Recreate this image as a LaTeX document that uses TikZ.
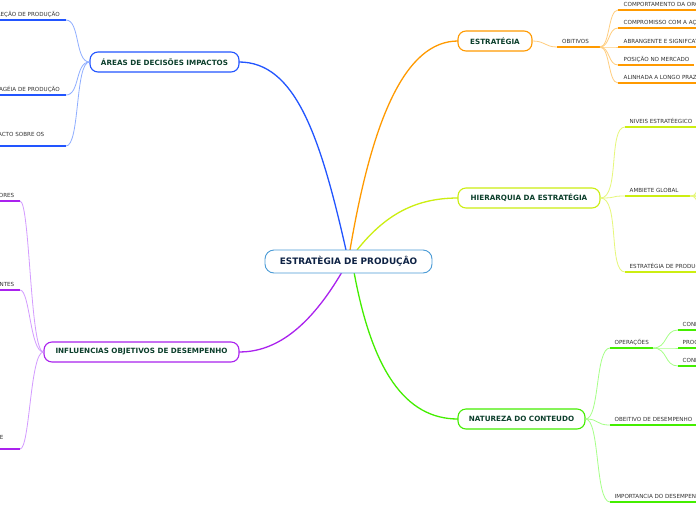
\documentclass[tikz,border=0pt]{standalone}
\usepackage{fontspec}
\setmainfont{DejaVu Sans}
\definecolor{ctrB}{HTML}{4A9BD6}
\definecolor{ctrT}{HTML}{0E2244}
\definecolor{mainT}{HTML}{0C3F2C}
\definecolor{subT}{HTML}{333333}
\definecolor{orM}{HTML}{FF9A00}
\definecolor{orL}{HTML}{FFCE80}
\definecolor{ylM}{HTML}{CCEE11}
\definecolor{ylL}{HTML}{E6F77A}
\definecolor{grM}{HTML}{44EE00}
\definecolor{grL}{HTML}{A6FF88}
\definecolor{blM}{HTML}{2255FF}
\definecolor{blL}{HTML}{8FAEFF}
\definecolor{puM}{HTML}{AA22EE}
\definecolor{puL}{HTML}{D39BFF}
\tikzset{
  mainbox/.style={draw=#1, line width=1.1pt, rounded corners=8pt, fill=white, inner sep=0pt,
    font=\fontsize{7.2}{8}\selectfont\bfseries, text=mainT},
  ctrbox/.style={draw=ctrB, line width=0.9pt, rounded corners=9pt, fill=white, inner sep=0pt,
    font=\fontsize{8.9}{10}\selectfont\bfseries, text=ctrT, minimum width=167pt, minimum height=23pt},
  subtxt/.style={font=\fontsize{5.6}{6.5}\selectfont, text=subT, inner sep=0pt},
  uline/.style={draw=#1, line width=1.6pt},
  conn/.style={draw=#1, line width=0.8pt},
  bigconn/.style={draw=#1, line width=1.3pt}
}
\begin{document}
\begin{tikzpicture}[x=1pt,y=-1pt]
\useasboundingbox (0,0) rectangle (696,520);
\clip (0,0) rectangle (696,520);
\fill[white] (0,0) rectangle (696,520);

% ---------- main connectors (drawn first) ----------
\coordinate (cB) at (346,250);
\coordinate (cO) at (350,250);
\coordinate (cY) at (357,250);
\coordinate (cG) at (354,272);
\coordinate (cP) at (342,272);
\coordinate (bA) at (239,62);
\coordinate (bE) at (458,41);
\coordinate (bH) at (458,198);
\coordinate (bN) at (458,419);
\coordinate (bI) at (239,352);
\draw[bigconn=blM] (cB) .. controls (320,135) and (295,62) .. (bA);
\draw[bigconn=orM] (cO) .. controls (372,120) and (405,41) .. (bE);
\draw[bigconn=ylM] (cY) .. controls (385,215) and (415,198) .. (bH);
\draw[bigconn=grM] (cG) .. controls (372,370) and (405,419) .. (bN);
\draw[bigconn=puM] (cP) .. controls (305,335) and (270,352) .. (bI);

% ---------- main nodes ----------
\node[ctrbox] (ctr) at (348.5,261.5) {ESTRATÈGIA DE PRODUÇÂO};
\node[mainbox=orM, minimum width=74pt, minimum height=20pt] (est) at (495,41) {ESTRATÉGIA};
\node[mainbox=ylM, minimum width=142pt, minimum height=20pt] (hie) at (529,198) {HIERARQUIA DA ESTRATÉGIA};
\node[mainbox=grM, minimum width=127pt, minimum height=20pt] (nat) at (521.5,419) {NATUREZA DO CONTEUDO};
\node[mainbox=blM, minimum width=149pt, minimum height=20pt] (are) at (164.5,62) {ÁREAS DE DECISÕES IMPACTOS};
\node[mainbox=puM, minimum width=195pt, minimum height=20pt] (inf) at (141.5,352) {INFLUENCIAS OBJETIVOS DE DESEMPENHO};

% ---------- ESTRATEGIA branch ----------
\coordinate (obA) at (557,47); \coordinate (obB) at (600,47);
\node[subtxt, anchor=west] (ob) at (562,41.5) {OBITIVOS};
\draw[conn=orL] (est.east) .. controls (545,41) and (545,47) .. (obA);
\draw[uline=orM] (obA) -- (obB);
\foreach \n/\y/\t in {o1/10/COMPORTAMENTO DA ORGANIZAÇÃO, o2/28/COMPROMISSO COM A AÇÃO, o3/47/ABRANGENTE E SIGNIFCATIVO, o5/83/ALINHADA A LONGO PRAZO}{
  \coordinate (\n a) at (618,\y);
  \coordinate (\n b) at (700,\y);
  \node[subtxt, anchor=west] (\n) at (623.5,\y-5.5) {\t};
  \draw[conn=orL] (obB) .. controls (610,47) and (608,\y) .. (\n a);
  \draw[uline=orM] (\n a) -- (\n b);
}
\coordinate (o4a) at (618,65);
\coordinate (o4b) at (694,65);
\node[subtxt, anchor=west] (o4) at (623.5,59.5) {POSIÇÃO NO MERCADO};
\draw[conn=orL] (obB) .. controls (610,47) and (608,65) .. (o4a);
\draw[uline=orM] (o4a) -- (o4b);

% ---------- HIERARQUIA branch ----------
\foreach \n/\y/\t in {h1/127/NIVEIS ESTRATÉEGICO, h2/196/AMBIETE GLOBAL, h3/272/ESTRATÉGIA DE PRODUÇÃO}{
  \coordinate (\n a) at (625,\y);
  \node[subtxt, anchor=west] (\n) at (629.5,\y-6) {\t};
  \draw[conn=ylL] (hie.east) .. controls (620,198) and (608,\y) .. (\n a);
}
\coordinate (h1b) at (700,127);
\coordinate (h2b) at (690,196);
\coordinate (h3b) at (700,272);
\draw[uline=ylM] (h1a) -- (h1b);
\draw[uline=ylM] (h2a) -- (h2b);
\draw[uline=ylM] (h3a) -- (h3b);
\coordinate (g1) at (712,150);
\coordinate (g2) at (712,185);
\coordinate (g3) at (712,205);
\coordinate (g4) at (712,240);
\foreach \g in {g1,g2,g3,g4}{
  \draw[conn=ylL] (h2b) .. controls (696,196) and (696,196) .. (\g);
}

% ---------- NATUREZA branch ----------
\foreach \n/\y/\t in {n1/348/OPERAÇÕES, n2/425/OBEITIVO DE DESEMPENHO, n3/502/IMPORTANCIA DO DESEMPENHO}{
  \coordinate (\n a) at (610,\y);
  \node[subtxt, anchor=west] (\n) at (614.5,\y-6) {\t};
  \draw[conn=grL] (nat.east) .. controls (600,419) and (595,\y) .. (\n a);
}
\coordinate (n1b) at (653,348);
\coordinate (n2b) at (700,425);
\coordinate (n3b) at (700,502);
\draw[uline=grM] (n1a) -- (n1b);
\draw[uline=grM] (n2a) -- (n2b);
\draw[uline=grM] (n3a) -- (n3b);
\foreach \n/\y/\t in {p1/330/CONHECIMENTO, p2/348/PROCESSOS, p3/366/CONDIÇÕES}{
  \coordinate (\n a) at (678,\y);
  \coordinate (\n b) at (700,\y);
  \node[subtxt, anchor=west] (\n) at (682.5,\y-6) {\t};
  \draw[conn=grL] (n1b) .. controls (668,348) and (664,\y) .. (\n a);
  \draw[uline=grM] (\n a) -- (\n b);
}

% ---------- AREAS branch ----------
\foreach \n/\y in {a1/20, a2/95, a3/146}{
  \coordinate (\n a) at (-5,\y);
  \coordinate (\n b) at (66,\y);
  \draw[conn=blL] (are.west) .. controls (75,62) and (80,\y) .. (\n b);
  \draw[uline=blM] (\n a) -- (\n b);
}
\node[subtxt, anchor=east] (a1) at (60,14) {DIREÇÃO DE PRODUÇÃO};
\node[subtxt, anchor=east] (a2) at (60,89) {ESTRATAGÉIA DE PRODUÇÃO};
\node[subtxt, anchor=east] (a3) at (44.5,134) {IMPACTO SOBRE OS};

% ---------- INFLUENCIAS branch ----------
\foreach \n/\y in {i1/201, i2/290, i3/449}{
  \coordinate (\n a) at (-5,\y);
  \coordinate (\n b) at (20,\y);
  \draw[conn=puL] (inf.west) .. controls (30,352) and (30,\y) .. (\n b);
  \draw[uline=puM] (\n a) -- (\n b);
}
\node[subtxt, anchor=east] (i1) at (14.5,195) {CONSUMIDORES};
\node[subtxt, anchor=east] (i2) at (14.5,284) {CONCORRENTES};
\node[subtxt, anchor=east] (i3) at (3.5,437) {CICLO DE VIDA DE};
\end{tikzpicture}
\end{document}
